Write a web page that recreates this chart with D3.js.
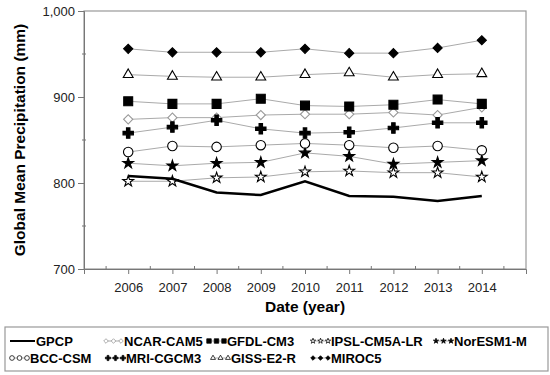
<!DOCTYPE html>
<html>
<head>
<meta charset="utf-8">
<script src="https://cdn.jsdelivr.net/npm/d3@7"></script>
<style>
  body { margin: 0; background: #fff; }
  text { font-family: "Liberation Sans", Arial, sans-serif; }
</style>
</head>
<body>
<div id="chart-area"></div>
<script>
var width = 550,
    height = 375;

// data
var years = [2006, 2007, 2008, 2009, 2010, 2011, 2012, 2013, 2014];
var yTicks = [700, 800, 900, 1000];

var gpcp     = [808, 805, 789, 786, 802, 785, 784, 779, 785];
var ncarCam5 = [874, 876, 876, 879, 880, 880, 882, 879, 888];
var gfdlCm3  = [895, 892, 892, 898, 890, 889, 891, 897, 892];
var ipslCm5a = [802, 802, 806, 807, 813, 814, 812, 812, 807];
var norEsm1m = [823, 820, 823, 824, 835, 831, 822, 824, 826];
var bccCsm   = [836, 843, 842, 844, 846, 844, 841, 843, 838];
var mriCgcm3 = [858, 865, 873, 863, 858, 859, 864, 870, 870];
var gissE2R  = [926, 924, 923, 923, 926, 928, 923, 926, 927];
var miroc5   = [956, 952, 952, 952, 956, 951, 951, 957, 966];

var series = [
  {name: "GPCP",         values: gpcp,     sym: null},
  {name: "NCAR-CAM5",    values: ncarCam5, sym: "diamond",  fill: "#fff", stroke: "#999"},
  {name: "GFDL-CM3",     values: gfdlCm3,  sym: "square",   fill: "#000", stroke: "#000"},
  {name: "IPSL-CM5A-LR", values: ipslCm5a, sym: "star",     fill: "#fff", stroke: "#000"},
  {name: "NorESM1-M",    values: norEsm1m, sym: "star",     fill: "#000", stroke: "#000"},
  {name: "BCC-CSM",      values: bccCsm,   sym: "circle",   fill: "#fff", stroke: "#000"},
  {name: "MRI-CGCM3",    values: mriCgcm3, sym: "cross",    fill: "#000", stroke: "#000"},
  {name: "GISS-E2-R",    values: gissE2R,  sym: "triangle", fill: "#fff", stroke: "#000"},
  {name: "MIROC5",       values: miroc5,   sym: "diamond",  fill: "#000", stroke: "#000"}
];

// [symbol type, size, rotation]
var symTypes = {
  diamond: [d3.symbolSquare, 42, 45],
  square: [d3.symbolSquare, 80, 0],
  star: [d3.symbolStar, 36, 0],
  circle: [d3.symbolCircle, 70, 0],
  cross: [d3.symbolCross, 60, 0],
  triangle: [d3.symbolTriangle, 42, 0]
};

var margin = {top: 11, right: 24, bottom: 106, left: 84};
var w = width - margin.left - margin.right,
    h = height - margin.top - margin.bottom;

var svg = d3.select("#chart-area").append("svg")
    .attr("width", width)
    .attr("height", height);

var g = svg.append("g")
    .attr("transform", "translate(" + margin.left + "," + margin.top + ")");

var x = d3.scaleLinear().domain([2005, 2015]).range([0, w]);
var y = d3.scaleLinear().domain([700, 1000]).range([h, 0]);

// frame
g.append("rect")
    .attr("width", w).attr("height", h)
    .attr("fill", "none")
    .attr("stroke", "#999")
    .attr("stroke-width", 1.2);

// y axis
var yAxis = g.append("g")
    .call(d3.axisLeft(y).tickValues(yTicks).tickFormat(d3.format(",")).tickSize(6).tickPadding(3));
yAxis.select(".domain").attr("stroke", "#777");
yAxis.selectAll(".tick line").attr("stroke", "#777");
yAxis.selectAll("text").attr("font-size", 13).attr("fill", "#222");
g.selectAll(".yminor")
    .data([750, 850, 950])
    .enter().append("line")
    .attr("x1", -2).attr("x2", 2)
    .attr("y1", d => y(d)).attr("y2", d => y(d))
    .attr("stroke", "#777");

// x axis
var xAxis = g.append("g")
    .attr("transform", "translate(0," + h + ")")
    .call(d3.axisBottom(x).tickValues(years).tickFormat(d3.format("d")).tickSize(5).tickPadding(9));
xAxis.select(".domain").attr("stroke", "#777");
xAxis.selectAll(".tick line").attr("stroke", "#777");
xAxis.selectAll("text").attr("font-size", 13).attr("fill", "#222");
g.selectAll(".xminor")
    .data(d3.range(2005.5, 2015, 1))
    .enter().append("line")
    .attr("x1", d => x(d)).attr("x2", d => x(d))
    .attr("y1", h - 3).attr("y2", h + 1)
    .attr("stroke", "#777");

// axis titles
svg.append("text")
    .attr("transform", "translate(25," + (margin.top + h / 2) + ") rotate(-90)")
    .attr("text-anchor", "middle")
    .attr("font-size", 15.5)
    .attr("font-weight", "bold")
    .text("Global Mean Precipitation (mm)");

svg.append("text")
    .attr("x", margin.left + w / 2)
    .attr("y", 312)
    .attr("text-anchor", "middle")
    .attr("font-size", 15.5)
    .attr("font-weight", "bold")
    .text("Date (year)");

var line = d3.line()
    .x((d, i) => x(years[i]))
    .y(d => y(d));

function symbolPath(s) {
  return d3.symbol().type(symTypes[s.sym][0]).size(symTypes[s.sym][1])();
}

// model lines first, then markers, then GPCP
series.forEach(function(s) {
  if (!s.sym) return;
  g.append("path")
      .datum(s.values)
      .attr("fill", "none")
      .attr("stroke", "#aaa")
      .attr("stroke-width", 1)
      .attr("d", line);
});

series.forEach(function(s) {
  if (!s.sym) return;
  g.selectAll(null)
      .data(s.values)
      .enter().append("path")
      .attr("transform", (d, i) => "translate(" + x(years[i]) + "," + y(d) + ") rotate(" + symTypes[s.sym][2] + ")")
      .attr("d", symbolPath(s))
      .attr("fill", s.fill)
      .attr("stroke", s.stroke)
      .attr("stroke-width", 1.1);
});

g.append("path")
    .datum(gpcp)
    .attr("fill", "none")
    .attr("stroke", "#000")
    .attr("stroke-width", 2.5)
    .attr("d", line);

// legend
var legend = svg.append("g");
legend.append("rect")
    .attr("x", 5).attr("y", 327)
    .attr("width", 543).attr("height", 44)
    .attr("fill", "#fff")
    .attr("stroke", "#999")
    .attr("stroke-width", 1.2);

var legendPos = [
  [10, 341], [104, 341], [207, 341], [311, 341], [434, 341],
  [10, 358], [106, 358], [211, 358], [311, 358]
];
var legendOrder = ["GPCP", "NCAR-CAM5", "GFDL-CM3", "IPSL-CM5A-LR", "NorESM1-M",
                   "BCC-CSM", "MRI-CGCM3", "GISS-E2-R", "MIROC5"];

legendOrder.forEach(function(name, k) {
  var s = series.find(d => d.name == name);
  var px = legendPos[k][0], py = legendPos[k][1];
  var item = legend.append("g").attr("transform", "translate(" + px + "," + py + ")");
  var lw;
  if (!s.sym) {
    lw = 25;
    item.append("line")
        .attr("x1", 0).attr("x2", lw)
        .attr("stroke", "#000").attr("stroke-width", 2);
  } else {
    lw = 19;
    item.append("line")
        .attr("x1", 2).attr("x2", lw - 2)
        .attr("stroke", "#aaa").attr("stroke-width", 1);
    [2, lw / 2, lw - 2].forEach(function(sx) {
      item.append("path")
          .attr("transform", "translate(" + sx + ",0) scale(0.5) rotate(" + symTypes[s.sym][2] + ")")
          .attr("d", symbolPath(s))
          .attr("fill", s.fill)
          .attr("stroke", s.stroke)
          .attr("stroke-width", 1.5);
    });
  }
  item.append("text")
      .attr("x", lw + 1)
      .attr("y", 5)
      .attr("font-size", 13)
      .attr("font-weight", "bold")
      .text(name);
});
</script>
</body>
</html>
